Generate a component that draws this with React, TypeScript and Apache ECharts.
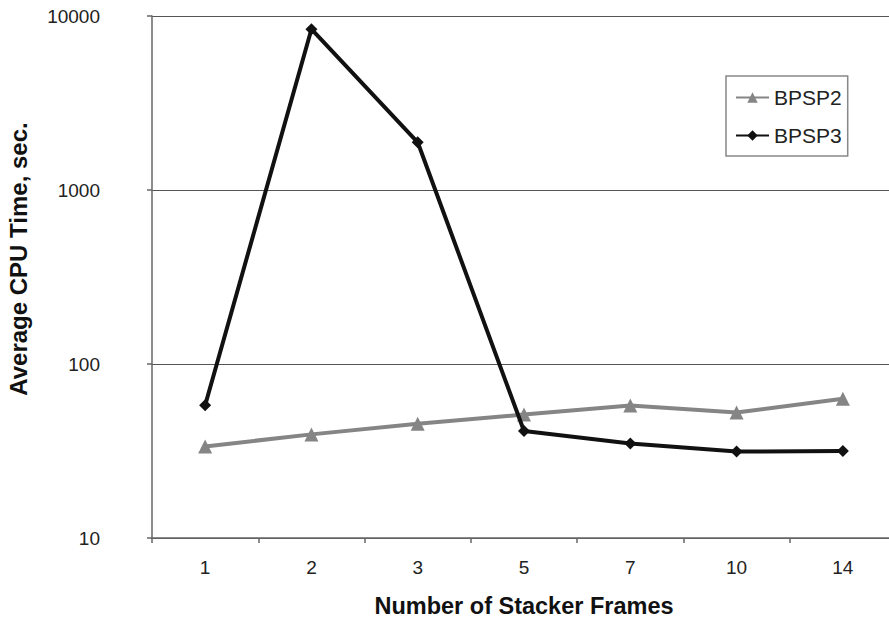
import React, { useEffect, useRef } from "react";
import * as echarts from "echarts";

const categories = ["1", "2", "3", "5", "7", "10", "14"];
const bpsp2 = [33.6, 39.4, 45.4, 51.2, 57.7, 52.6, 63.2];
const bpsp3 = [57.9, 8400, 1880, 41.2, 34.9, 31.4, 31.6];
const yTitle = "Average CPU Time, sec.";
const xTitle = "Number of Stacker Frames";

export default function App() {
  const ref = useRef<HTMLDivElement>(null);
  useEffect(() => {
    const chart = echarts.init(ref.current!, null, { renderer: "svg" });
    const font = "Arial, 'Liberation Sans', Helvetica, sans-serif";
    chart.setOption({
      animation: false,
      backgroundColor: "#ffffff",
      textStyle: { fontFamily: font },
      grid: { left: 152, top: 16, right: -7, bottom: 81, outerBoundsMode: "none", containLabel: false },
      legend: {
        orient: "vertical",
        left: 726,
        top: 76,
        padding: [11, 6, 10, 9],
        itemGap: 17,
        itemWidth: 33,
        itemHeight: 13,
        borderColor: "#888",
        borderWidth: 1.5,
        backgroundColor: "#fff",
        textStyle: { fontSize: 21, lineHeight: 21, color: "#222", fontFamily: font },
        data: ["BPSP2", "BPSP3"],
      },
      graphic: [
        {
          type: "text",
          x: 18,
          y: 259,
          rotation: Math.PI / 2,
          style: {
            text: yTitle,
            font: `bold 24px ${font}`,
            fill: "#111",
            align: "center",
            verticalAlign: "middle",
          },
        },
      ],
      xAxis: {
        type: "category",
        data: categories,
        boundaryGap: true,
        axisLine: { lineStyle: { color: "#666", width: 1.5 } },
        axisTick: { show: true, length: 5, lineStyle: { color: "#666", width: 1.5 } },
        axisLabel: { fontSize: 19, color: "#222", margin: 20, fontFamily: font },
        name: xTitle,
        nameLocation: "middle",
        nameGap: 56,
        nameTextStyle: { fontSize: 23.5, fontWeight: "bold", color: "#111", fontFamily: font },
      },
      yAxis: {
        type: "log",
        logBase: 10,
        min: 10,
        max: 10000,
        axisLine: { show: true, lineStyle: { color: "#666", width: 1.5 } },
        axisTick: { show: true, length: 5, lineStyle: { color: "#666", width: 1.5 } },
        splitLine: { show: true, lineStyle: { color: "#555", width: 1.2 } },
        axisLabel: {
          fontSize: 19,
          color: "#222",
          margin: 52,
          fontFamily: font,
          formatter: (v: number) => String(Math.round(v)),
        },
      },
      series: [
        {
          name: "BPSP2",
          type: "line",
          data: bpsp2,
          color: "#858585",
          lineStyle: { color: "#858585", width: 4 },
          itemStyle: { color: "#858585" },
          symbol: "triangle",
          symbolSize: 14,
          z: 2,
        },
        {
          name: "BPSP3",
          type: "line",
          data: bpsp3,
          color: "#111111",
          lineStyle: { color: "#111111", width: 4 },
          itemStyle: { color: "#111111" },
          symbol: "diamond",
          symbolSize: 12,
          z: 3,
        },
      ],
    });
    return () => chart.dispose();
  }, []);
  return (
    <div
      ref={ref}
      style={{ position: "absolute", left: 0, top: 0, width: 889, height: 619, overflow: "hidden" }}
    />
  );
}
